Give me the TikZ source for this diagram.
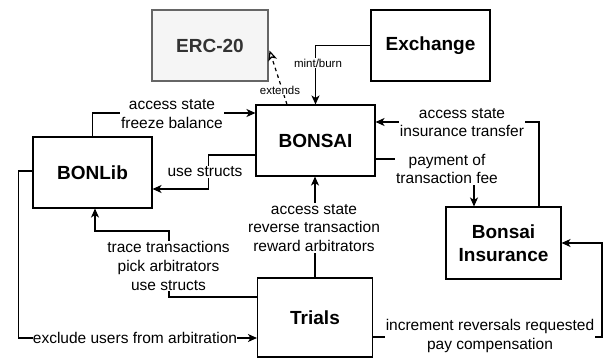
\documentclass[tikz,border=0pt]{standalone}
\usepackage{fontspec}
\setmainfont{Liberation Sans}
\usetikzlibrary{arrows.meta}
\definecolor{ercfill}{HTML}{F5F5F5}
\definecolor{ercline}{HTML}{666666}
\definecolor{erctext}{HTML}{333333}
\tikzset{
  box/.style={draw=black, line width=1.1pt, fill=white, rectangle,
    minimum width=119pt, minimum height=71pt, inner sep=0pt,
    font=\fontsize{19}{23}\selectfont\bfseries, align=center},
  lbl/.style={fill=white, inner sep=1pt, align=center,
    font=\fontsize{15.5}{18.8}\selectfont},
  small/.style={fill=white, inner sep=1pt, font=\fontsize{11.5}{13}\selectfont},
  conn/.style={line width=1.2pt, -{Stealth[length=9pt,width=8pt,inset=2.5pt]}},
  extarrow/.style={line width=1.2pt, dash pattern=on 3.5pt off 3.5pt,
    -{Stealth[open,length=10pt,width=9pt,inset=2.5pt]}}
}
\begin{document}
\begin{tikzpicture}[x=1pt,y=-1pt]
\useasboundingbox (0,0) rectangle (606,359);

% components
\node[box, draw=ercline, fill=ercfill, text=erctext, minimum width=116pt] (erc) at (210,45.5) {ERC-20};
\node[box] (exch) at (430.5,45.5) {Exchange};
\node[box] (bonsai) at (315.5,140.5) {BONSAI};
\node[box] (bonlib) at (92.5,172.5) {BONLib};
\node[box, minimum width=115pt, minimum height=72pt] (ins) at (503.5,243) {Bonsai\\Insurance};
\node[box, minimum width=115pt, minimum height=79pt] (trials) at (315,317.5) {Trials};

% connectors
\draw[conn] (exch.west) -| (bonsai.north);
\draw[extarrow] ([xshift=-28.5pt]bonsai.north) -- ([yshift=-5pt,xshift=1pt]erc.east);
\draw[conn] (bonlib.north) |- ([yshift=27.5pt]bonsai.west);
\draw[conn] ([yshift=-14.5pt]bonsai.west) -- ++(-47,0) |- ([yshift=-16.5pt]bonlib.east);
\draw[conn] ([yshift=20.5pt]trials.west) -- ++(-88,0) -- ++(0,-66) -| ([xshift=2.5pt]bonlib.south);
\draw[conn] ([yshift=1.5pt]bonlib.west) -- ++(-14,0) |- ([yshift=-20.5pt]trials.west);
\draw[conn] (trials.north) -- (trials.north |- bonsai.south);
\draw[conn] ([yshift=-18.5pt]bonsai.east) -| ([xshift=-29.5pt]ins.north);
\draw[conn] ([xshift=35.5pt]ins.north) |- ([yshift=18.5pt]bonsai.east);
\draw[conn] ([yshift=-19.5pt]trials.east) -- ++(229,0) |- (ins.east);

% connector labels
\node[small] (lmint) at (318,63) {mint/burn};
\node[small] (lext) at (280,90) {extends};
\node[lbl] (lacc) at (172,114) {access state\\freeze balance};
\node[lbl] (luse) at (205,172) {use structs};
\node[lbl] (ltrace) at (168.5,266) {trace transactions\\pick arbitrators\\use structs};
\node[lbl, inner sep=0pt] (lexcl) at (135,338) {exclude users from arbitration};
\node[lbl] (lrev) at (314,228) {access state\\reverse transaction\\reward arbitrators};
\node[lbl] (lpay) at (447,169) {payment of\\transaction fee};
\node[lbl] (lins) at (462,122.5) {access state\\insurance transfer};
\node[lbl] (lincr) at (490,336) {increment reversals requested\\pay compensation};
\end{tikzpicture}
\end{document}
